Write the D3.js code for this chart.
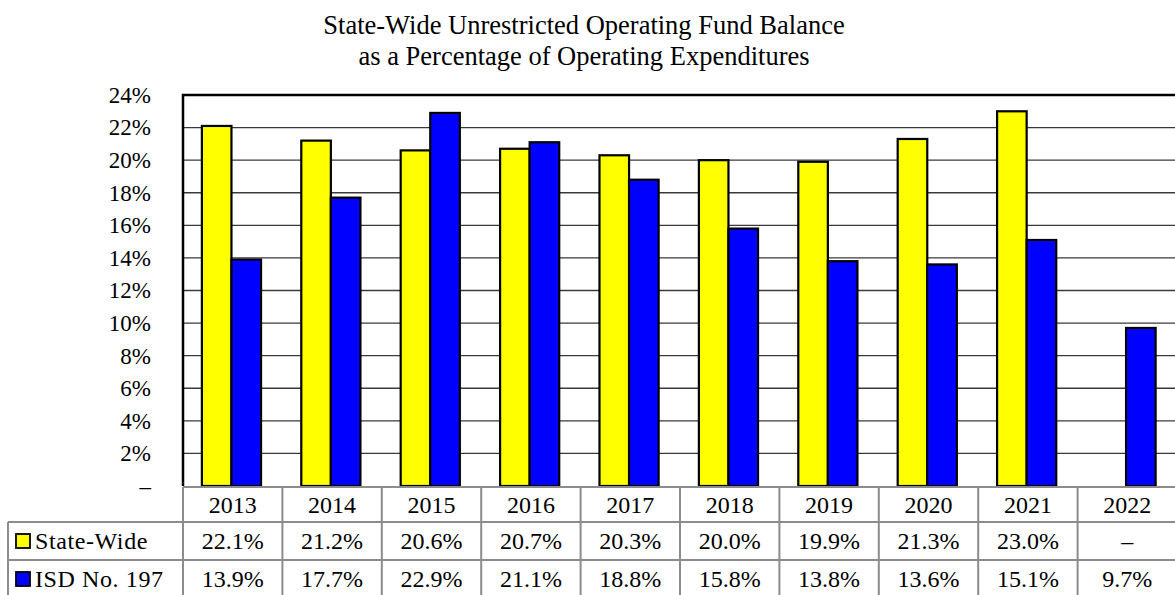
<!DOCTYPE html>
<html>
<head>
<meta charset="utf-8">
<script src="https://d3js.org/d3.v7.min.js"></script>
<style>
  body { margin: 0; background: #fff; }
</style>
</head>
<body>
<div id="container"></div>
<script>
// Data
const years = ["2013", "2014", "2015", "2016", "2017", "2018", "2019", "2020", "2021", "2022"]
const seriesNames = ["State-Wide", "ISD No. 197"]
const stateWide = [22.1, 21.2, 20.6, 20.7, 20.3, 20.0, 19.9, 21.3, 23.0, null]
const isd197 = [13.9, 17.7, 22.9, 21.1, 18.8, 15.8, 13.8, 13.6, 15.1, 9.7]
const seriesColors = ["#ffff00", "#0000ff"]
const yTicks = [0, 2, 4, 6, 8, 10, 12, 14, 16, 18, 20, 22, 24]
const titleLines = ["State-Wide Unrestricted Operating Fund Balance", "as a Percentage of Operating Expenditures"]

const w = 1175
const h = 595
const plot = { left: 183, right: 1177, top: 95, bottom: 486 }
const rowH = [35, 38, 38]   // header, state-wide, isd rows
const serif = "'Liberation Serif', 'Times New Roman', serif"

const svg = d3.select("#container")
    .append("svg")
    .attr("width", w)
    .attr("height", h)
    .style("font-family", serif)

// Title
svg.selectAll(".title")
    .data(titleLines)
    .enter()
    .append("text")
    .attr("class", "title")
    .attr("x", 584)
    .attr("y", (d, i) => 34 + i * 31)
    .attr("text-anchor", "middle")
    .style("font-family", serif)
    .style("font-size", "26.5px")
    .text(d => d)

// Scales
const xScale = d3.scaleBand()
    .domain(years)
    .range([plot.left, plot.right])

const xInner = d3.scaleBand()
    .domain(seriesNames)
    .range([xScale.bandwidth() * 0.19, xScale.bandwidth() * 0.785])

const yScale = d3.scaleLinear()
    .domain([0, 24])
    .range([plot.bottom, plot.top])

// Gridlines
svg.append("g")
    .selectAll("line")
    .data(yTicks.filter(t => t > 0 && t < 24))
    .enter()
    .append("line")
    .attr("x1", plot.left)
    .attr("x2", plot.right)
    .attr("y1", d => yScale(d))
    .attr("y2", d => yScale(d))
    .attr("stroke", "#3a3a3a")
    .attr("stroke-width", 1.3)

// Y axis labels
const yAxis = d3.axisLeft(yScale)
    .tickValues(yTicks)
    .tickSize(0)
    .tickPadding(32)
    .tickFormat(d => d === 0 ? "\u2013" : d + "%")

svg.append("g")
    .attr("transform", `translate(${plot.left},0)`)
    .call(yAxis)
    .call(g => g.select(".domain").remove())
    .call(g => g.selectAll("text")
        .attr("fill", "#000")
        .style("font-family", serif)
        .style("font-size", "23px"))

// Bars
const seriesData = [stateWide, isd197]
const barGroups = svg.append("g")
    .selectAll("g")
    .data(years)
    .enter()
    .append("g")
    .attr("transform", d => `translate(${xScale(d)},0)`)

barGroups.selectAll("rect")
    .data((yr, i) => seriesNames.map((s, j) => ({ series: s, idx: j, value: seriesData[j][i] })))
    .enter()
    .filter(d => d.value !== null)
    .append("rect")
    .attr("x", d => xInner(d.series))
    .attr("y", d => yScale(d.value))
    .attr("width", xInner.bandwidth())
    .attr("height", d => plot.bottom - yScale(d.value))
    .attr("fill", d => seriesColors[d.idx])
    .attr("stroke", "#000")
    .attr("stroke-width", 2.2)

// Plot border (top and left)
svg.append("path")
    .attr("d", `M${plot.left},${plot.bottom} V${plot.top} H${plot.right}`)
    .attr("fill", "none")
    .attr("stroke", "#000")
    .attr("stroke-width", 2.5)

// Data table
const table = svg.append("g")
const tableTop = plot.bottom + 1
const row1 = tableTop + rowH[0]
const row2 = row1 + rowH[1]
const row3 = row2 + rowH[2]
const labelLeft = 8
const gridColor = "#8c8c8c"

// horizontal lines
table.append("line").attr("x1", plot.left).attr("x2", plot.right)
    .attr("y1", tableTop).attr("y2", tableTop)
    .attr("stroke", gridColor).attr("stroke-width", 2)
table.selectAll(".hrow")
    .data([row1, row2, row3])
    .enter()
    .append("line")
    .attr("x1", labelLeft).attr("x2", plot.right)
    .attr("y1", d => d).attr("y2", d => d)
    .attr("stroke", gridColor).attr("stroke-width", 2)

// vertical lines
table.selectAll(".vcol")
    .data(years)
    .enter()
    .append("line")
    .attr("x1", d => xScale(d)).attr("x2", d => xScale(d))
    .attr("y1", tableTop).attr("y2", row3)
    .attr("stroke", gridColor).attr("stroke-width", 2)
table.append("line")
    .attr("x1", labelLeft).attr("x2", labelLeft)
    .attr("y1", row1).attr("y2", row3)
    .attr("stroke", gridColor).attr("stroke-width", 2)

// header years
table.selectAll(".yr")
    .data(years)
    .enter()
    .append("text")
    .attr("x", d => xScale(d) + xScale.bandwidth() / 2)
    .attr("y", tableTop + rowH[0] / 2 + 8)
    .attr("text-anchor", "middle")
    .style("font-family", serif)
    .style("font-size", "24px")
    .text(d => d)

// value rows
const fmt = v => v === null ? "\u2013" : v.toFixed(1) + "%"
seriesData.forEach((vals, j) => {
    const rowTop = j === 0 ? row1 : row2
    table.selectAll(".val" + j)
        .data(vals)
        .enter()
        .append("text")
        .attr("x", (d, i) => xScale(years[i]) + xScale.bandwidth() / 2)
        .attr("y", rowTop + rowH[j + 1] / 2 + 8)
        .attr("text-anchor", "middle")
        .style("font-family", serif)
        .style("font-size", "24px")
        .text(d => fmt(d))

    // legend key + series label
    table.append("rect")
        .attr("x", 16)
        .attr("y", rowTop + rowH[j + 1] / 2 - 7)
        .attr("width", 14)
        .attr("height", 14)
        .attr("fill", seriesColors[j])
        .attr("stroke", "#000")
        .attr("stroke-width", 1.8)
    table.append("text")
        .attr("x", 35)
        .attr("y", rowTop + rowH[j + 1] / 2 + 8)
        .style("font-family", serif)
        .style("font-size", "24px")
        .style("letter-spacing", "0.6px")
        .text(seriesNames[j])
})
</script>
</body>
</html>
